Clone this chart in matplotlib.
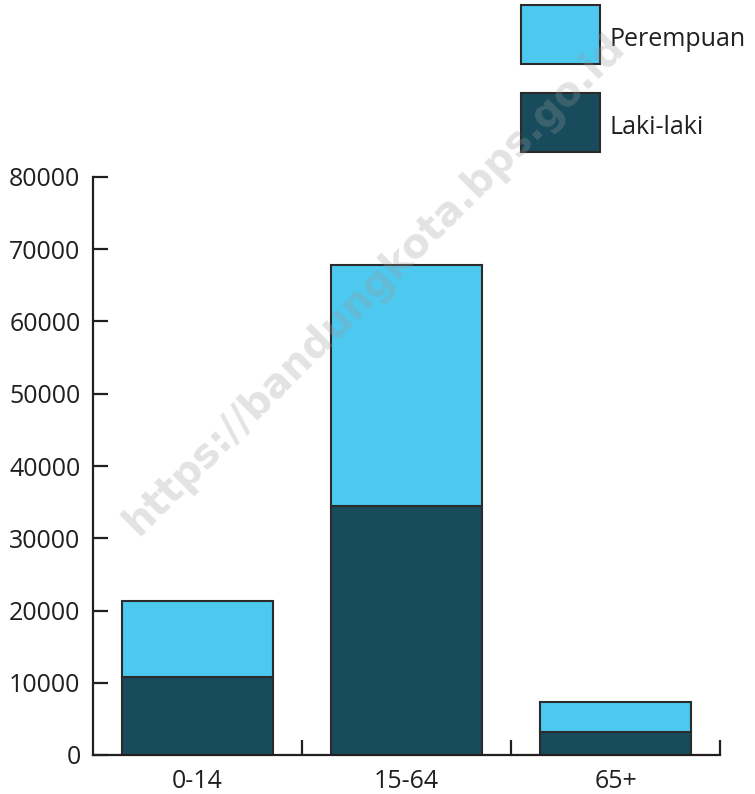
import numpy as np
import matplotlib.pyplot as plt
from matplotlib.patches import Rectangle

plt.rcParams['font.family'] = ['Open Sans', 'DejaVu Sans']

# data
groups = ['0-14', '15-64', '65+']
laki = [10800, 34500, 3200]
perempuan = [10500, 33300, 4100]
yticks = [0, 10000, 20000, 30000, 40000, 50000, 60000, 70000, 80000]

c_laki = '#184c5d'
c_perempuan = '#4dc8ef'
c_edge = '#2b2b2b'
c_axis = '#231f20'

W, H = 755, 794
fig = plt.figure(figsize=(W / 100, H / 100), dpi=100)
ax = fig.add_axes([93 / W, 39 / H, 627 / W, 578 / H])

x = np.arange(len(groups))
w = 0.72
ax.bar(x, laki, width=w, color=c_laki, edgecolor=c_edge, linewidth=1.5, zorder=2)
ax.bar(x, perempuan, width=w, bottom=laki, color=c_perempuan, edgecolor=c_edge,
       linewidth=1.5, zorder=2)

ax.set_xlim(-0.5, len(groups) - 0.5)
ax.set_ylim(0, 80000)
ax.set_yticks(yticks)
ax.set_yticklabels([str(v) for v in yticks])
ax.set_xticks(x)
ax.set_xticklabels(groups)
ax.set_xticks(x + 0.5, minor=True)

for s in ['top', 'right']:
    ax.spines[s].set_visible(False)
for s in ['left', 'bottom']:
    ax.spines[s].set_linewidth(1.6)
    ax.spines[s].set_color(c_axis)

ax.tick_params(axis='y', direction='in', length=11, width=1.6, color=c_axis,
               labelsize=18, pad=9, labelcolor=c_axis)
ax.tick_params(axis='x', which='major', length=0, labelsize=18, pad=10,
               labelcolor=c_axis)
ax.tick_params(axis='x', which='minor', direction='in', length=11, width=1.6,
               color=c_axis)

# legend boxes, top right of the figure
leg_items = [('Perempuan', c_perempuan, 5), ('Laki-laki', c_laki, 93)]
for label, col, top in leg_items:
    fig.add_artist(Rectangle((521 / W, 1 - (top + 59) / H), 79 / W, 59 / H,
                             transform=fig.transFigure, facecolor=col,
                             edgecolor=c_edge, linewidth=1.5))
    fig.text(610 / W, 1 - (top + 34) / H, label, ha='left', va='center',
             fontsize=18, color=c_axis)

# watermark
fig.text(375 / W, 1 - 285 / H, 'https://bandungkota.bps.go.id', rotation=45,
         ha='center', va='center', fontsize=29, fontweight='bold',
         family='DejaVu Sans', color='#9a9a9a', alpha=0.28, zorder=10)

fig.savefig('out.png', dpi=100)
